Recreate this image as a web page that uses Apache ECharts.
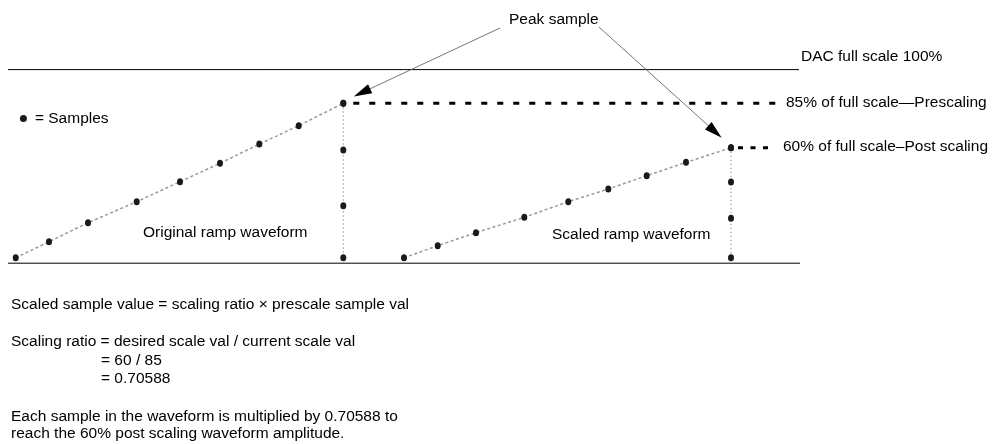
<!DOCTYPE html>
<html>
<head>
<meta charset="utf-8">
<script src="https://cdn.jsdelivr.net/npm/echarts@6/dist/echarts.min.js"></script>
<style>
  html, body { margin: 0; padding: 0; background: #fff; }
  #chart { width: 995px; height: 444px; }
</style>
</head>
<body>
<div id="chart"></div>
<script>
// ---- Data (x: horizontal position units, y: level units, full scale = 100) ----
const origX = [15.7, 49, 88, 136.7, 180, 220, 259.3, 298.7, 343.3];
const origY = [0, 8.5, 18.6, 29.8, 40.4, 50.2, 60.4, 70.2, 82.1];
const origDropY = [82.1, 57.3, 27.7, 0];
const scaledX = [404, 437.7, 476, 524.3, 568.3, 608.3, 646.7, 686, 731];
const scaledY = [0, 6.4, 13.3, 21.5, 29.8, 36.5, 43.6, 50.7, 58.5];
const scaledDropY = [58.5, 40.3, 21.0, 0];
const fullScaleLevel = 100;
const baselineLevel = -2.9;
const axisLineX = [8, 799];
const prescaleLineEndX = 779;
const postscaleLineEndX = 772;
const arrowFrom = [[500, 122.1], [599, 122.6]];
const arrowTo = [[362, 87.8], [715, 67.0]];

const zip = (xs, ys) => xs.map((x, i) => [x, ys[i]]);
const dropX = (x, ys) => ys.map(y => [x, y]);
const lerp = (a, b, t) => [a[0] + (b[0] - a[0]) * t, a[1] + (b[1] - a[1]) * t];

const FONT_FAMILY = '"Liberation Sans", Arial, sans-serif';
const FONT = '15.5px ' + FONT_FAMILY;
const ellipse = 'path://M0,-1A1,1,0,1,1,0,1A1,1,0,1,1,0,-1Z';

const chart = echarts.init(document.getElementById('chart'));

function txt(text, x, y) {
  return { type: 'text', x: x, y: y, silent: true,
    style: { text: text, font: FONT, fill: '#000', verticalAlign: 'middle', align: 'left' } };
}

const arrowLines = arrowFrom.map((f, i) => [{ coord: f }, { coord: arrowTo[i] }]);
const arrowHeads = arrowFrom.map((f, i) => [{ coord: lerp(arrowTo[i], f, 0.03) }, { coord: arrowTo[i] }]);

const option = {
  animation: false,
  backgroundColor: '#fff',
  grid: { left: 0, right: 0, top: 0, bottom: 0, containLabel: false },
  xAxis: { type: 'value', min: 0, max: 995, show: false },
  yAxis: { type: 'value', min: -99, max: 137, show: false },
  legend: {
    data: [{ name: '= Samples', icon: 'circle' }],
    left: 19.9, top: 110.5, padding: 0,
    itemWidth: 13, itemHeight: 7,
    selectedMode: false,
    textStyle: { fontFamily: FONT_FAMILY, fontSize: 15.5, color: '#000' }
  },
  series: [
    {
      name: 'Full scale', type: 'line', data: axisLineX.map(x => [x, fullScaleLevel]),
      symbol: 'none', silent: true, lineStyle: { color: '#000', width: 1 }, z: 1,
      markLine: {
        silent: true, symbol: ['none', 'none'],
        label: { show: false },
        lineStyle: { color: '#666', width: 0.9, type: 'solid' },
        data: arrowLines
      }
    },
    {
      name: 'Baseline', type: 'line', data: [[axisLineX[0], baselineLevel], [axisLineX[1] + 1, baselineLevel]],
      symbol: 'none', silent: true, lineStyle: { color: '#000', width: 1 }, z: 1,
      markLine: {
        silent: true, symbol: ['none', 'triangle'], symbolSize: [10, 18],
        label: { show: false },
        lineStyle: { color: '#000', width: 1, type: 'solid' },
        data: arrowHeads
      }
    },
    {
      name: 'Prescale level', type: 'line',
      data: [[origX[origX.length - 1], origY[origY.length - 1]], [prescaleLineEndX, origY[origY.length - 1]]],
      symbol: 'none', silent: true, lineStyle: { color: '#000', width: 3, type: [6, 10], dashOffset: -10 }, z: 2
    },
    {
      name: 'Postscale level', type: 'line',
      data: [[scaledX[scaledX.length - 1], scaledY[scaledY.length - 1]], [postscaleLineEndX, scaledY[scaledY.length - 1]]],
      symbol: 'none', silent: true, lineStyle: { color: '#000', width: 3, type: [5, 7.5], dashOffset: -7 }, z: 2
    },
    {
      name: 'Original drop', type: 'line', data: dropX(origX[origX.length - 1], origDropY),
      symbol: ellipse, symbolSize: [6, 7], itemStyle: { color: '#1a1a1a' },
      lineStyle: { color: '#aaa', width: 1.3, type: [1.5, 2.5] }, z: 3
    },
    {
      name: 'Scaled drop', type: 'line', data: dropX(scaledX[scaledX.length - 1], scaledDropY),
      symbol: ellipse, symbolSize: [6, 7], itemStyle: { color: '#1a1a1a' },
      lineStyle: { color: '#aaa', width: 1.3, type: [1.5, 2.5] }, z: 3
    },
    {
      name: '= Samples', type: 'line', data: zip(origX, origY),
      symbol: ellipse, symbolSize: [6, 7], itemStyle: { color: '#1a1a1a' },
      lineStyle: { color: '#999', width: 1.5, type: [3, 2.5] }, z: 4
    },
    {
      name: '= Samples', type: 'line', data: zip(scaledX, scaledY),
      symbol: ellipse, symbolSize: [6, 7], itemStyle: { color: '#1a1a1a' },
      lineStyle: { color: '#999', width: 1.5, type: [3, 2.5] }, z: 4
    }
  ],
  graphic: [
    txt('Peak sample', 509, 20),
    txt('DAC full scale 100%', 801, 57),
    txt('85% of full scale\u2014Prescaling', 786, 103),
    txt('60% of full scale\u2013Post scaling', 783, 147),
    txt('Original ramp waveform', 143, 233),
    txt('Scaled ramp waveform', 552, 235),
    txt('Scaled sample value = scaling ratio \u00d7 prescale sample val', 11, 305),
    txt('Scaling ratio = desired scale val / current scale val', 11, 342),
    txt('= 60 / 85', 101, 361),
    txt('= 0.70588', 101, 379),
    txt('Each sample in the waveform is multiplied by 0.70588 to', 11, 417),
    txt('reach the 60% post scaling waveform amplitude.', 11, 434)
  ]
};
chart.setOption(option);
</script>
</body>
</html>
